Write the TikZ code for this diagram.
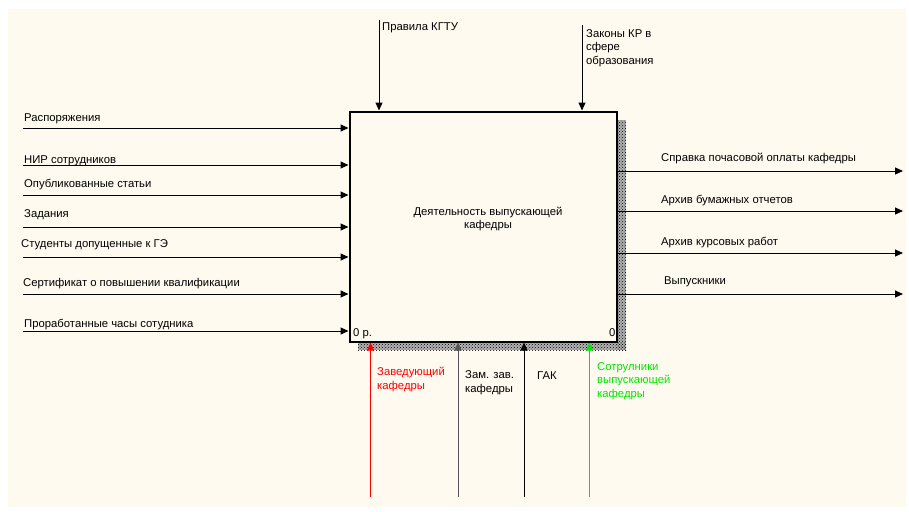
\documentclass[tikz,border=0pt]{standalone}
\usepackage{fontspec}
\setmainfont{Liberation Sans}
\usetikzlibrary{arrows.meta,patterns}
\definecolor{bgcream}{RGB}{255,250,240}
\definecolor{zgray}{RGB}{85,85,85}
\definecolor{sgreen}{RGB}{0,230,0}
\begin{document}
\begin{tikzpicture}[x=1pt,y=-1pt,
  arr/.style={line width=1pt,-{Triangle[length=8pt,width=7pt]}},
  lbl/.style={anchor=base west,inner sep=0pt,font=\fontsize{11.3}{13.5}\selectfont,align=left},
  lblc/.style={inner sep=0pt,font=\fontsize{11.3}{13.5}\selectfont,align=center},
  shadow/.style={pattern=crosshatch dots,pattern color=black,draw=none}]
\useasboundingbox (0,0) rectangle (909,511);
\fill[white] (0,0) rectangle (909,511);
\fill[bgcream] (8,9) rectangle (906,507);
% shadow
\fill[black!30] (617,120) rectangle (626,350);
\fill[black!30] (358,342) rectangle (626,350);
\fill[shadow] (617,120) rectangle (626,350);
\fill[shadow] (358,342) rectangle (626,350);
% main box
\node[draw,line width=2pt,fill=bgcream,minimum width=267pt,minimum height=230pt,inner sep=0pt] (box) at (483,226.5) {};
\node[lblc] (boxtxt) at (488,219) {Деятельность выпускающей\\кафедры};
\node[lbl] (num) at (353,336) {0 р.};
\node[lbl] (num2) at (609,336) {0};
% controls (top)
\coordinate (c1) at (379,20);
\coordinate (c2) at (582,25);
\draw[arr] (c1) -- (c1 |- box.north);
\draw[arr] (c2) -- (c2 |- box.north);
\node[lbl] (tc1) at (382,31) {Правила КГТУ};
\node[lbl] (tc2) at (586,64) {Законы КР в\\сфере\\образования};
% inputs (left)
\foreach \y/\n in {128/i1,165/i2,195/i3,227/i4,257/i5,294/i6,331/i7}{
  \coordinate (\n) at (23,\y);
  \draw[arr] (\n) -- (\n -| box.west);
}
\node[lbl] (ti1) at (24,121) {Распоряжения};
\node[lbl] (ti2) at (24,163) {НИР сотрудников};
\node[lbl] (ti3) at (24,187) {Опубликованные статьи};
\node[lbl] (ti4) at (24,217) {Задания};
\node[lbl] (ti5) at (21,247) {Студенты допущенные к ГЭ};
\node[lbl] (ti6) at (23,286) {Сертификат о повышении квалификации};
\node[lbl] (ti7) at (24,327) {Проработанные часы сотудника};
% outputs (right)
\foreach \y/\n in {171/o1,211/o2,253/o3,294/o4}{
  \coordinate (\n) at (903,\y);
  \draw[arr] (\n -| box.east) -- (\n);
}
\node[lbl] (to1) at (661,161) {Справка почасовой оплаты кафедры};
\node[lbl] (to2) at (661,203) {Архив бумажных отчетов};
\node[lbl] (to3) at (661,245) {Архив курсовых работ};
\node[lbl] (to4) at (664,284) {Выпускники};
% mechanisms (bottom)
\coordinate (m1) at (370.5,497);
\coordinate (m2) at (458,497);
\coordinate (m3) at (524,497);
\coordinate (m4) at (589.5,497);
\draw[arr,red] (m1) -- (m1 |- box.south);
\draw[arr,zgray] (m2) -- (m2 |- box.south);
\draw[arr,black] (m3) -- (m3 |- box.south);
\draw[arr,sgreen] (m4) -- (m4 |- box.south);
\node[lbl,text=red] (tm1) at (377,389) {Заведующий\\кафедры};
\node[lbl] (tm2) at (465,392) {Зам. зав.\\кафедры};
\node[lbl] (tm3) at (537,379) {ГАК};
\node[lbl,text=sgreen] (tm4) at (597,397) {Сотрулники\\выпускающей\\кафедры};
\end{tikzpicture}
\end{document}
